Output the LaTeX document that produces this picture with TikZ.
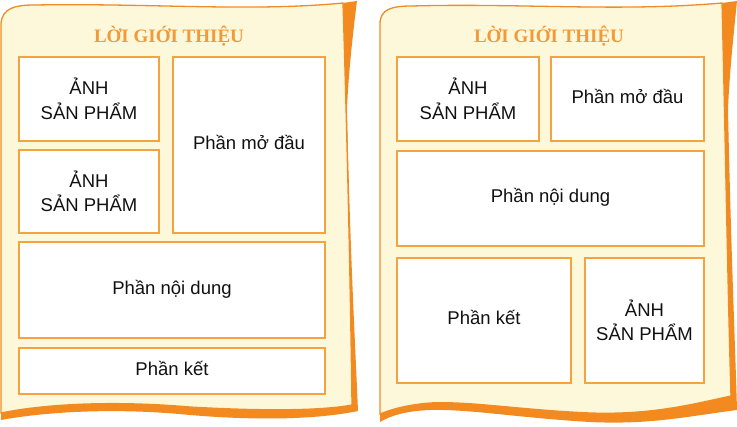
\documentclass[tikz,border=0pt]{standalone}
\usepackage{fontspec}
\setmainfont{Liberation Sans}
\newfontfamily\titlefont{Liberation Serif}
\definecolor{cream}{HTML}{FEF8DA}
\definecolor{pageline}{HTML}{F08C26}
\definecolor{curl}{HTML}{F28A1F}
\definecolor{boxline}{HTML}{F4A33E}
\definecolor{titleorange}{HTML}{F29A38}
\definecolor{ink}{HTML}{111111}
\tikzset{
	box/.style={draw=boxline, line width=1.6pt, fill=white, inner sep=0pt, align=center,
		text=ink, font=\fontsize{18.5}{24.5}\selectfont},
	oneline/.style={text height=9pt, text depth=0pt},
	heading/.style={anchor=base, text=titleorange, font=\titlefont\bfseries\fontsize{19}{21}\selectfont}
}

\begin{document}
\begin{tikzpicture}[x=1pt, y=-1pt]
			%%%%% START %%%%%
			\useasboundingbox (0, 0) rectangle (737, 427);
			
			% left page
			\fill[curl] (1, 24) .. controls (2, 8) and (15, 5) .. (35, 5) .. controls (150, 3) and (250, 12) .. (343, 3)
				-- (357, 1) .. controls (352, 40) and (348, 80) .. (347, 110) .. controls (350, 250) and (355, 340) .. (358, 411)
				.. controls (320, 419) and (260, 421) .. (190, 415) .. controls (120, 408) and (50, 411) .. (1, 420) -- cycle;
			\draw[pageline, line width=1.3pt, fill=cream] (1, 24) .. controls (2, 8) and (15, 5) .. (35, 5) .. controls (150, 3) and (250, 12) .. (343, 3)
				.. controls (346, 100) and (350, 250) .. (352, 405)
				.. controls (320, 411) and (260, 411) .. (190, 407) .. controls (120, 401) and (50, 403) .. (1, 413) -- cycle;
			
			\node[heading] (titleL) at (169, 43) {LỜI GIỚI THIỆU};
			\node[box, minimum width=140pt, minimum height=84pt] (anhL1) at (89, 99) {ẢNH\\SẢN PHẨM};
			\node[box, minimum width=140pt, minimum height=83pt] (anhL2) at (89, 191.5) {ẢNH\\SẢN PHẨM};
			\node[box, oneline, minimum width=152pt, minimum height=176pt] (moL) at (249, 145) {Phần mở đầu};
			\node[box, oneline, minimum width=306pt, minimum height=96pt] (noiL) at (172, 290) {Phần nội dung};
			\node[box, oneline, minimum width=306pt, minimum height=46pt] (ketL) at (172, 371) {Phần kết};
			
			% right page
			\fill[curl] (380, 24) .. controls (380, 9) and (392, 6) .. (412, 6) .. controls (520, 3) and (620, 12) .. (722, 3)
				-- (737, 1) .. controls (733, 40) and (729, 80) .. (728, 110) .. controls (731, 250) and (735, 340) .. (737, 410)
				.. controls (690, 416) and (650, 425) .. (590, 422) .. controls (520, 418) and (470, 409) .. (430, 410)
				.. controls (405, 411) and (390, 416) .. (380, 422) -- cycle;
			\draw[pageline, line width=1.3pt, fill=cream] (380, 24) .. controls (380, 9) and (392, 6) .. (412, 6) .. controls (520, 3) and (620, 12) .. (722, 3)
				.. controls (725, 120) and (728, 300) .. (731, 396)
				.. controls (690, 405) and (650, 415) .. (590, 413) .. controls (520, 410) and (470, 401) .. (430, 403)
				.. controls (405, 405) and (390, 410) .. (380, 414) -- cycle;
			
			\node[heading] (titleR) at (549, 43) {LỜI GIỚI THIỆU};
			\node[box, minimum width=142pt, minimum height=84pt] (anhR1) at (468, 99) {ẢNH\\SẢN PHẨM};
			\node[box, oneline, minimum width=153pt, minimum height=84pt] (moR) at (627.5, 99) {Phần mở đầu};
			\node[box, oneline, minimum width=307pt, minimum height=95pt] (noiR) at (550.5, 198.5) {Phần nội dung};
			\node[box, oneline, minimum width=174pt, minimum height=125pt] (ketR) at (484, 320.5) {Phần kết};
			\node[box, minimum width=119pt, minimum height=125pt] (anhR2) at (644.5, 320.5) {ẢNH\\SẢN PHẨM};
			%%%%% END %%%%%
\end{tikzpicture}
\end{document}
